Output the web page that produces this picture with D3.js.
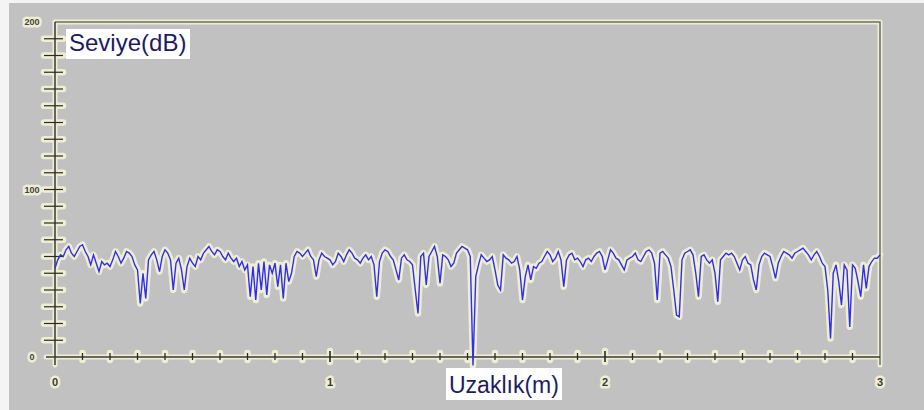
<!DOCTYPE html>
<html>
<head>
<meta charset="utf-8">
<script src="https://cdn.jsdelivr.net/npm/d3@7"></script>
<style>
  html, body { margin: 0; padding: 0; background: #f4f4f4; }
  svg { display: block; }
  text { font-family: "Liberation Sans", Arial, sans-serif; }
</style>
</head>
<body>
<svg id="chart" width="924" height="410"></svg>
<script>
// Distance axis (m) and level readings (dB), one reading per centimetre
const distanceRange = [0, 3];
const levelRange = [0, 200];
const levelsDb = [
  53, 58, 61, 60, 64, 66, 62, 60, 63, 66,
  67, 63, 60, 55, 61, 56, 51, 57, 55, 56,
  54, 58, 63, 60, 56, 59, 63, 62, 60, 55,
  52, 32, 50, 35, 58, 61, 63, 58, 51, 60,
  64, 62, 58, 40, 56, 59, 52, 40, 54, 59,
  56, 54, 60, 58, 62, 64, 66, 63, 61, 64,
  63, 60, 58, 62, 59, 57, 59, 54, 57, 52,
  55, 36, 54, 34, 56, 40, 57, 37, 55, 50,
  56, 42, 55, 35, 56, 45, 50, 60, 63, 62,
  60, 62, 64, 60, 58, 48, 58, 62, 60, 59,
  58, 55, 57, 62, 60, 57, 61, 64, 62, 59,
  58, 56, 59, 61, 58, 60, 55, 36, 57, 62,
  64, 63, 60, 58, 52, 46, 59, 61, 58, 57,
  55, 40, 26, 60, 62, 43, 60, 63, 66, 60,
  44, 61, 60, 58, 54, 56, 62, 64, 66, 65,
  64, 60, -5, 48, 55, 61, 59, 57, 58, 60,
  52, 43, 40, 61, 59, 58, 56, 57, 60, 52,
  34, 48, 55, 46, 54, 53, 56, 57, 60, 63,
  61, 57, 59, 63, 58, 42, 58, 61, 62, 58,
  59, 57, 54, 58, 59, 57, 60, 62, 63, 60,
  52, 58, 64, 62, 59, 58, 55, 52, 58, 59,
  60, 62, 58, 57, 60, 63, 64, 62, 56, 34,
  62, 63, 61, 59, 54, 40, 25, 24, 58, 62,
  63, 64, 61, 50, 36, 60, 61, 58, 56, 58,
  50, 33, 58, 60, 62, 61, 62, 60, 56, 52,
  58, 60, 56, 55, 46, 40, 55, 60, 62, 61,
  60, 54, 47, 56, 60, 63, 62, 61, 59, 62,
  63, 64, 65, 63, 61, 58, 61, 63, 60, 56,
  54, 40, 11, 50, 55, 45, 31, 55, 52, 18,
  55, 53, 45, 36, 55, 41, 54, 57, 59, 59,
  61
];
const xTickLabels = ["0", "1", "2", "3"];
const yTickLabels = ["0", "100", "200"];
const xAxisTitle = "Uzaklık(m)";
const yAxisTitle = "Seviye(dB)";

const series = levelsDb.map((v, i) => ({ x: i / 100, y: v }));

const svg = d3.select("#chart");
const W = 924, H = 410;
const halo = "#efeed2";

// panel background
svg.append("rect").attr("x", 9).attr("y", 3).attr("width", W - 9).attr("height", H - 3)
  .attr("fill", "#c1c1c1");

const x = d3.scaleLinear().domain(distanceRange).range([55, 880]);
const y = d3.scaleLinear().domain(levelRange).range([357, 22]);

const defs = svg.append("defs");
defs.append("filter").attr("id", "soft")
  .append("feGaussianBlur").attr("stdDeviation", 0.6);

const haloLayer = svg.append("g").attr("filter", "url(#soft)");
const inkLayer = svg.append("g");

function both(draw, hw = 6.5) {
  draw(haloLayer).attr("stroke", halo).attr("stroke-width", hw)
    .attr("stroke-linecap", "round").attr("stroke-linejoin", "round");
  return draw(inkLayer);
}

// plot frame (top and right edges)
both(g => g.append("path")
  .attr("d", `M${x(0)},${y(200)}H${x(3)}V${y(0) + 8}`)
  .attr("fill", "none"), 5)
  .attr("stroke", "#6e6e6e").attr("stroke-width", 1.5);

// level axis with ticks crossing the line
const yTickVals = d3.range(10, 200, 10);
yTickVals.forEach(v => {
  both(g => g.append("line").attr("x1", x(0) - 11).attr("x2", x(0) + 8)
    .attr("y1", y(v)).attr("y2", y(v)))
    .attr("stroke", "#2a2a2a").attr("stroke-width", 1.2);
});
both(g => g.append("line").attr("x1", x(0)).attr("x2", x(0))
  .attr("y1", y(200)).attr("y2", y(0) + 8), 5)
  .attr("stroke", "#2a2a2a").attr("stroke-width", 1.4);

// distance axis with minor and major ticks
both(g => g.append("line").attr("x1", x(0) - 9).attr("x2", x(3))
  .attr("y1", y(0)).attr("y2", y(0)), 5)
  .attr("stroke", "#3a3a3a").attr("stroke-width", 1.3);
d3.range(1, 30).forEach(k => {
  const major = k % 10 === 0;
  both(g => g.append("line").attr("x1", x(k / 10)).attr("x2", x(k / 10))
    .attr("y1", y(0) - (major ? 6 : 4)).attr("y2", y(0) + (major ? 5 : 3)))
    .attr("stroke", "#2a2a2a").attr("stroke-width", major ? 1.6 : 1.3);
});

// the measured level trace
const line = d3.line().x(d => x(d.x)).y(d => y(d.y));
both(g => g.append("path").datum(series).attr("d", line).attr("fill", "none"), 6.5)
  .attr("stroke", "#2e2ef2").attr("stroke-width", 1.4).attr("stroke-linejoin", "miter")
  .attr("stroke-linecap", "butt");

// tick labels with light halo
function haloText(sel) {
  return sel.attr("paint-order", "stroke").attr("stroke", halo)
    .attr("stroke-width", 5).attr("stroke-linejoin", "round");
}
yTickLabels.forEach(t => {
  haloText(svg.append("text").attr("x", 32).attr("y", y(+t)).attr("dy", "0.35em")
    .attr("text-anchor", "middle").attr("font-size", 9).attr("font-weight", "bold")
    .attr("fill", "#444").text(t));
});
xTickLabels.forEach(t => {
  haloText(svg.append("text").attr("x", x(+t)).attr("y", 382).attr("dy", "0.35em")
    .attr("text-anchor", "middle").attr("font-size", 11).attr("font-weight", "bold")
    .attr("fill", "#3a3a3a").text(t));
});

// axis titles on white plates
function title(txt, left, top, size, plateW, plateH, base) {
  const g = svg.append("g");
  g.append("rect").attr("x", left).attr("y", top)
    .attr("width", plateW).attr("height", plateH).attr("fill", "#ffffff");
  g.append("text").attr("x", left + 3).attr("y", top + base)
    .attr("font-size", size).attr("fill", "#1c1c66").text(txt);
}
title(yAxisTitle, 66, 29, 24, 124, 30, 22);
title(xAxisTitle, 446, 368, 23, 116, 32, 25);
</script>
</body>
</html>
